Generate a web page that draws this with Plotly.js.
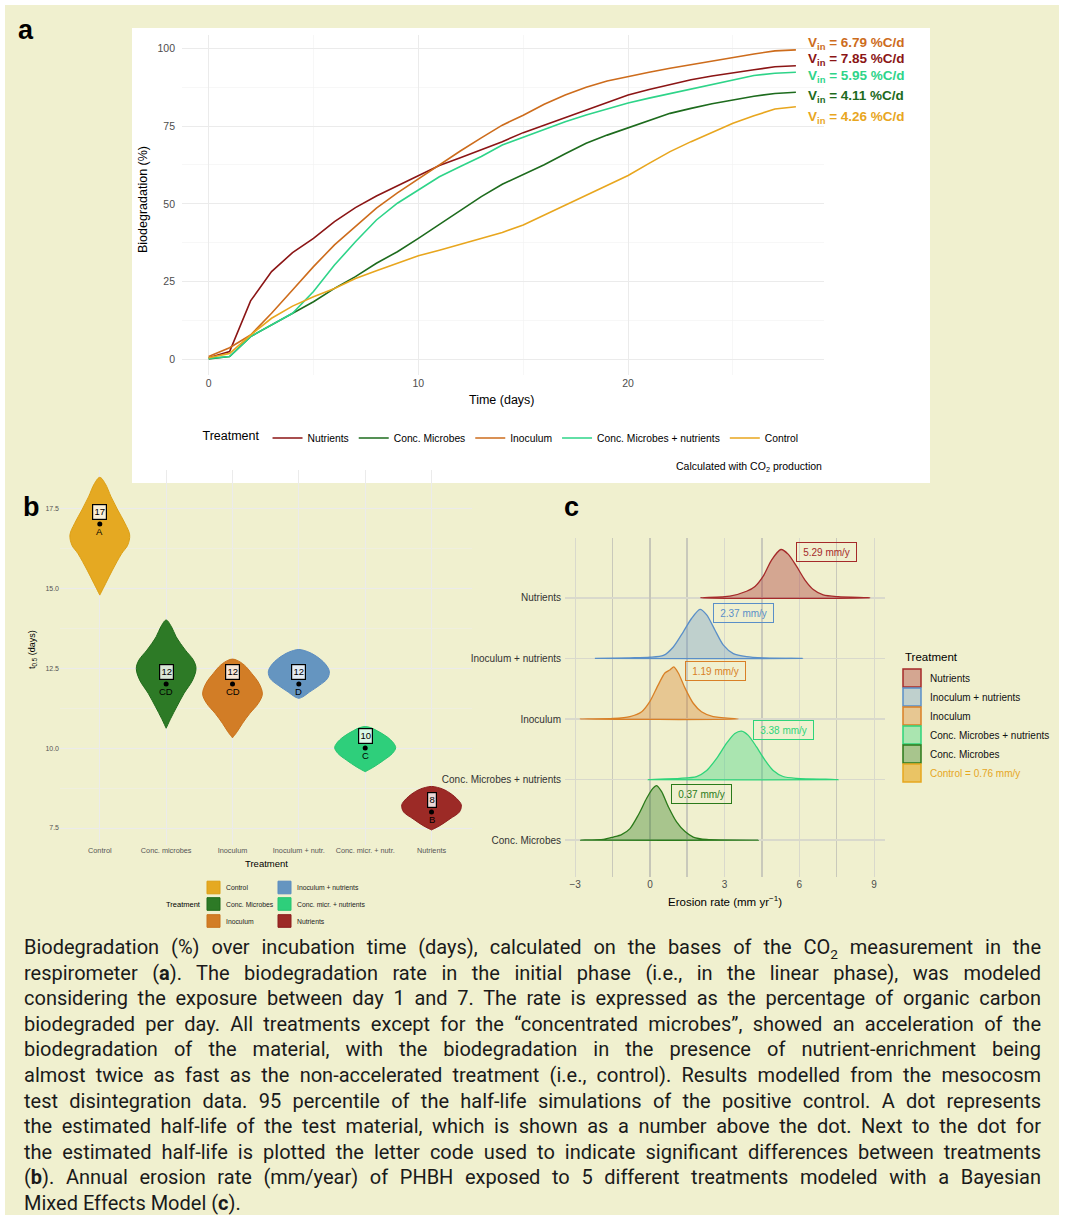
<!DOCTYPE html>
<html><head><meta charset="utf-8">
<script src="https://cdn.plot.ly/plotly-3.0.1.min.js"></script>
<style>
body{margin:0;background:#fff;width:1069px;height:1215px;position:relative;overflow:hidden}
#bg{position:absolute;left:5px;top:5px;width:1054px;height:1210px;background:#f0f0cf}
#plot{position:absolute;left:0;top:0;width:1069px;height:930px}
#cap{position:absolute;left:24px;top:935px;width:1017px;font-family:Roboto,"Liberation Sans",sans-serif;font-size:20px;line-height:25.6px;color:#1a1a1a}
#cap .ln{white-space:nowrap;text-align:left}
#cap .ln.j{white-space:normal;text-align:justify;text-align-last:justify}
#cap sub{font-size:0.68em;line-height:0}
</style></head>
<body>
<div id="bg"></div>
<div id="plot"></div>
<div id="cap"></div>
<script>
// ---------------- DATA ----------------
// Panel a: biodegradation (%) vs time (days)
const days = [0,1,2,3,4,5,6,7,8,9,10,11,12,13,14,15,16,17,18,19,20,21,22,23,24,25,26,27,28];
const seriesNames = ['Nutrients','Conc. Microbes','Inoculum','Conc. Microbes + nutrients','Control'];
const nutrients = [0.5,2.5,18.8,28.2,34.3,38.9,44.3,48.8,52.5,55.8,59.1,62.3,64.8,67.3,70.0,72.9,75.3,77.7,80.0,82.5,85.0,86.8,88.4,89.9,91.1,92.2,93.1,94.1,94.4];
const concMicrobes = [0.1,0.9,7.3,11.0,14.8,18.5,22.8,26.6,30.9,34.6,38.9,43.4,48.0,52.3,56.3,59.5,62.6,66.1,69.5,72.1,74.5,76.7,79.1,80.7,82.2,83.4,84.6,85.5,85.9];
const inoculum = [0.9,3.7,7.8,14.8,22.3,29.8,36.8,42.7,48.6,53.5,58.0,62.5,67.0,71.2,75.3,78.5,82.0,85.0,87.5,89.5,91.0,92.3,93.6,94.8,96.0,97.2,98.2,99.2,99.5];
const concMicrobesNutr = [0.3,0.9,7.3,11.0,14.8,21.8,30.3,37.8,44.8,50.2,54.4,58.7,62.0,65.2,68.9,71.4,74.0,76.4,78.6,80.6,82.4,84.0,85.5,87.0,88.5,90.0,91.3,92.0,92.3];
const control = [0.5,1.9,7.8,13.2,17.1,20.1,22.8,26.0,28.5,31.0,33.3,35.1,37.0,38.9,40.8,43.2,46.4,49.6,52.8,56.0,59.1,63.0,66.8,70.0,73.0,75.9,78.3,80.5,81.2];
const vinRates = ['7.85','4.11','6.79','5.95','4.26'];

// Panel b: half-life t0.5 (days) violins
const violinCats = ['Control','Conc. microbes','Inoculum','Inoculum + nutr.','Conc. micr. + nutr.','Nutrients'];
const halfLife = [17,12,12,12,10,8];
const letterCodes = ['A','CD','CD','D','C','B'];
const vioY_control = [18.46,18.27,17.85,17.44,17.02,16.66,16.34,16.08,15.56,15.15,14.78];
const vioW_control = [0,0.08,0.17,0.27,0.38,0.45,0.42,0.33,0.19,0.09,0];
const vioY_concMic = [14.0,13.79,13.48,13.06,12.75,12.49,12.13,11.71,11.29,10.93,10.62];
const vioW_concMic = [0,0.08,0.15,0.29,0.41,0.45,0.40,0.27,0.16,0.07,0];
const vioY_inoc = [12.78,12.74,12.59,12.33,12.02,11.69,11.40,11.08,10.77,10.51,10.32];
const vioW_inoc = [0,0.07,0.18,0.29,0.40,0.45,0.39,0.26,0.15,0.07,0];
const vioY_inocNutr = [13.08,13.05,12.96,12.75,12.54,12.38,12.17,11.96,11.75,11.60,11.55];
const vioW_inocNutr = [0,0.08,0.19,0.34,0.43,0.46,0.43,0.31,0.16,0.06,0];
const vioY_concMicNutr = [10.67,10.64,10.54,10.35,10.15,10.01,9.83,9.62,9.41,9.26];
const vioW_concMicNutr = [0,0.08,0.18,0.33,0.43,0.46,0.41,0.28,0.13,0];
const vioY_nutr = [8.80,8.77,8.69,8.48,8.27,8.18,8.00,7.79,7.58,7.44];
const vioW_nutr = [0,0.09,0.20,0.35,0.44,0.45,0.42,0.28,0.13,0];
const legendB = ['Control','Conc. Microbes','Inoculum','Inoculum + nutrients','Conc. micr. + nutrients','Nutrients'];

// Panel c: erosion rate (mm/yr) posterior densities (ridge heights in row units)
const ridgeRows = ['Conc. Microbes','Conc. Microbes + nutrients','Inoculum','Inoculum + nutrients','Nutrients'];
const dens_concMic_x = [-2.78,-1.87,-1.47,-1.14,-0.80,-0.47,-0.13,0.11,0.27,0.47,0.74,1.07,1.41,1.74,2.28,4.35];
const dens_concMic_y = [0,0.01,0.05,0.09,0.19,0.41,0.69,0.85,0.90,0.80,0.55,0.30,0.14,0.05,0.01,0];
const dens_concMicNutr_x = [-0.07,1.20,1.87,2.28,2.68,3.08,3.41,3.68,3.95,4.28,4.62,4.95,5.35,5.89,7.56];
const dens_concMicNutr_y = [0,0.02,0.05,0.15,0.35,0.60,0.76,0.80,0.73,0.54,0.32,0.15,0.05,0.02,0];
const dens_inoc_x = [-2.81,-1.47,-0.80,-0.33,0.00,0.33,0.60,0.80,0.96,1.14,1.41,1.74,2.07,2.54,3.55];
const dens_inoc_y = [0,0.01,0.04,0.12,0.29,0.56,0.76,0.81,0.86,0.76,0.51,0.26,0.12,0.04,0];
const dens_inocNutr_x = [-2.21,-0.80,0.00,0.54,0.94,1.34,1.67,2.01,2.28,2.61,2.95,3.35,3.88,4.55,6.13];
const dens_inocNutr_y = [0,0.01,0.02,0.05,0.19,0.44,0.66,0.81,0.72,0.47,0.22,0.08,0.03,0.01,0];
const dens_nutr_x = [2.03,3.21,3.88,4.22,4.55,4.89,5.26,5.56,5.89,6.22,6.56,6.96,7.56,8.84];
const dens_nutr_y = [0,0.03,0.11,0.19,0.36,0.63,0.80,0.72,0.52,0.30,0.14,0.05,0.02,0];
const erosionRates = ['0.37','3.38','1.19','2.37','5.29'];
const controlRate = '0.76';
const legendC = ['Nutrients','Inoculum + nutrients','Inoculum','Conc. Microbes + nutrients','Conc. Microbes','Control = ' + controlRate + ' mm/y'];

const captionLines = [
 'Biodegradation (%) over incubation time (days), calculated on the bases of the CO<sub>2</sub> measurement in the',
 'respirometer (<b>a</b>). The biodegradation rate in the initial phase (i.e., in the linear phase), was modeled',
 'considering the exposure between day 1 and 7. The rate is expressed as the percentage of organic carbon',
 'biodegraded per day. All treatments except for the \u201cconcentrated microbes\u201d, showed an acceleration of the',
 'biodegradation of the material, with the biodegradation in the presence of nutrient-enrichment being',
 'almost twice as fast as the non-accelerated treatment (i.e., control). Results modelled from the mesocosm',
 'test disintegration data. 95 percentile of the half-life simulations of the positive control. A dot represents',
 'the estimated half-life of the test material, which is shown as a number above the dot. Next to the dot for',
 'the estimated half-life is plotted the letter code used to indicate significant differences between treatments',
 '(<b>b</b>). Annual erosion rate (mm/year) of PHBH exposed to 5 different treatments modeled with a Bayesian',
 'Mixed Effects Model (<b>c</b>).'
];

// ---------------- STYLE ----------------
const W = 1069, H = 930;
const px = v => v / W, py = v => 1 - v / H;
const FONT = '"Liberation Sans", Arial, sans-serif';
const lineColorsA = ['#8b1515','#1d6b1d','#cd6c1c','#2ed489','#e8a61e'];
const vinLabelY = [96.5, 84.6, 101.7, 91.0, 77.7];
const vioFill = ['#e5a922','#2d7a26','#d27d26','#6595c0','#2ecf7b','#9c2a26'];
const vioLine = ['#dc9f15','#1f6a1a','#c9721c','#5a8cc0','#27c470','#8b1c1c'];
const ridgeLine = ['#2a7a1a','#2ed47a','#d98026','#5a8fc8','#a52a2a'];
const ridgeFill = ['rgba(42,122,26,0.36)','rgba(46,212,122,0.36)','rgba(217,128,38,0.36)','rgba(90,143,200,0.33)','rgba(165,42,42,0.37)'];
const ridgeLabelPos = [[701.5,793.5],[783.5,730],[715.5,671],[743.5,612.5],[826.5,552]];
const legCFill = ['rgba(165,42,42,0.37)','rgba(90,143,200,0.33)','rgba(217,128,38,0.36)','rgba(46,212,122,0.36)','rgba(42,122,26,0.36)','rgba(230,166,30,0.6)'];
const legCLine = ['#a52a2a','#5a8fc8','#d98026','#2ed47a','#2a7a1a','#e6a61e'];

const traces = [];
// Panel a lines
const seriesA = [nutrients, concMicrobes, inoculum, concMicrobesNutr, control];
seriesA.forEach((s,k)=>{
  traces.push({type:'scatter',mode:'lines',x:days,y:s,name:seriesNames[k],xaxis:'x',yaxis:'y',
    line:{color:lineColorsA[k],width:1.6},hoverinfo:'skip',legend:'legend'});
});
// Panel b violins
const vioYs = [vioY_control,vioY_concMic,vioY_inoc,vioY_inocNutr,vioY_concMicNutr,vioY_nutr];
const vioWs = [vioW_control,vioW_concMic,vioW_inoc,vioW_inocNutr,vioW_concMicNutr,vioW_nutr];
vioYs.forEach((yy,i)=>{
  const ww = vioWs[i];
  const xr = yy.map((v,k)=>i+ww[k]);
  const xl = yy.map((v,k)=>i-ww[k]).reverse();
  const yl = yy.slice().reverse();
  traces.push({type:'scatter',mode:'lines',x:xr.concat(xl),y:yy.concat(yl),fill:'toself',
    fillcolor:vioFill[i],line:{color:vioLine[i],width:1,shape:'spline',smoothing:1},
    xaxis:'x2',yaxis:'y2',showlegend:false,hoverinfo:'skip'});
});
traces.push({type:'scatter',mode:'markers',x:violinCats.map((c,i)=>i),y:halfLife,
  marker:{color:'#000',size:5},xaxis:'x2',yaxis:'y2',showlegend:false,hoverinfo:'skip'});
// Panel c ridges
const ridgeXs = [dens_concMic_x,dens_concMicNutr_x,dens_inoc_x,dens_inocNutr_x,dens_nutr_x];
const ridgeYs = [dens_concMic_y,dens_concMicNutr_y,dens_inoc_y,dens_inocNutr_y,dens_nutr_y];
ridgeXs.forEach((xx,r)=>{
  const yy = ridgeYs[r].map(v=>r+v);
  traces.push({type:'scatter',mode:'lines',x:xx.concat([xx[0]]),y:yy.concat([r]),fill:'toself',
    fillcolor:ridgeFill[r],line:{color:ridgeLine[r],width:1.3,shape:'spline',smoothing:0.7},
    xaxis:'x3',yaxis:'y3',showlegend:false,hoverinfo:'skip'});
});

// ---------------- ANNOTATIONS & SHAPES ----------------
const ann = [];
const shapes = [];
shapes.push({type:'rect',xref:'paper',yref:'paper',x0:px(132),x1:px(930),y0:py(483),y1:py(28),
  fillcolor:'#ffffff',line:{width:0},layer:'below'});
const A = (o)=>ann.push(Object.assign({showarrow:false,xref:'paper',yref:'paper',xanchor:'center',yanchor:'middle',
  font:{family:FONT,size:11,color:'#000'}},o));
A({x:px(26),y:py(30),text:'<b>a</b>',font:{family:FONT,size:27,color:'#000'}});
A({x:px(31),y:py(507),text:'<b>b</b>',font:{family:FONT,size:27,color:'#000'}});
A({x:px(571),y:py(507),text:'<b>c</b>',font:{family:FONT,size:27,color:'#000'}});
// panel a
A({x:px(143),y:py(200),text:'Biodegradation (%)',textangle:-90,font:{family:FONT,size:12.5,color:'#000'}});
A({x:px(502),y:py(400),text:'Time (days)',font:{family:FONT,size:12.5,color:'#000'}});
A({x:px(824),y:py(467),xanchor:'right',text:'Calculated with CO<sub>2</sub> production',font:{family:FONT,size:10.5,color:'#000'}});
seriesNames.forEach((n,k)=>{
  ann.push({showarrow:false,xref:'x',yref:'y',x:28.47,y:vinLabelY[k],xanchor:'left',yanchor:'middle',
    text:'<b>V<sub>in</sub> = '+vinRates[k]+' %C/d</b>',font:{family:FONT,size:13.5,color:lineColorsA[k]}});
});
// panel b
halfLife.forEach((t,i)=>{
  ann.push({showarrow:false,xref:'x2',yref:'y2',x:i,y:t+0.38,text:String(t),xanchor:'center',yanchor:'middle',
    font:{family:FONT,size:9.5,color:'#000'},bordercolor:'#000',borderwidth:1.2,borderpad:1.2,bgcolor:'rgba(255,255,255,0.82)'});
  ann.push({showarrow:false,xref:'x2',yref:'y2',x:i,y:t-0.23,text:letterCodes[i],xanchor:'center',yanchor:'middle',
    font:{family:FONT,size:9.5,color:'#000'}});
});
A({x:px(266),y:py(863),text:'Treatment',font:{family:FONT,size:9.5,color:'#000'}});
A({x:px(32),y:py(650),text:'t<sub>0.5</sub> (days)',textangle:-90,font:{family:FONT,size:9,color:'#000'}});
A({x:px(203),y:py(904),xanchor:'right',text:'Treatment',font:{family:FONT,size:7.5,color:'#000'}});
legendB.forEach((n,k)=>{
  const col = k<3 ? 0 : 1, row = k%3;
  const bx = col===0 ? 207 : 278, cy = [887.5,904,921][row];
  shapes.push({type:'rect',xref:'paper',yref:'paper',x0:px(bx),x1:px(bx+13),y0:py(cy+6.3),y1:py(cy-6.3),
    fillcolor:vioFill[k],line:{color:vioLine[k],width:1}});
  A({x:px(bx+17),y:py(cy),xanchor:'left',text:n,font:{family:FONT,size:6.8,color:'#222'}});
});
// panel c
A({x:px(725),y:py(901),text:'Erosion rate (mm yr<sup>\u22121</sup>)',font:{family:FONT,size:11.5,color:'#000'}});
erosionRates.forEach((v,r)=>{
  A({x:px(ridgeLabelPos[r][0]),y:py(ridgeLabelPos[r][1]),text:v+' mm/y',
    font:{family:FONT,size:10,color:ridgeLine[r]},bordercolor:ridgeLine[r],borderwidth:1,borderpad:2,
    width:55,height:14,bgcolor:'rgba(0,0,0,0)'});
});
A({x:px(903),y:py(657),xanchor:'left',text:'Treatment',font:{family:FONT,size:11.5,color:'#000'}});
legendC.forEach((n,k)=>{
  const top = 669 + 19*k;
  shapes.push({type:'rect',xref:'paper',yref:'paper',x0:px(903),x1:px(921),y0:py(top+18),y1:py(top),
    fillcolor:legCFill[k],line:{color:legCLine[k],width:1.5}});
  A({x:px(928),y:py(top+9),xanchor:'left',text:n,font:{family:FONT,size:10,color:k===5?'#e6a61e':'#111'}});
});

const tickA = {family:FONT,size:10.5,color:'#4d4d4d'};
const layout = {
  width:W,height:H,margin:{l:0,r:0,t:0,b:0},autosize:false,
  paper_bgcolor:'rgba(0,0,0,0)',plot_bgcolor:'rgba(0,0,0,0)',
  font:{family:FONT},
  xaxis:{domain:[px(182),px(824)],range:[-1.27,29.34],anchor:'y',tickvals:[0,10,20],
    showgrid:true,gridcolor:'#ebebeb',gridwidth:1,zeroline:false,showline:false,ticks:'',tickfont:tickA,
    minor:{dtick:5,tick0:0,showgrid:true,gridcolor:'#f2f2f2',gridwidth:0.6,ticks:''}},
  yaxis:{domain:[py(375),py(35)],range:[-5.05,104.3],anchor:'x',tickvals:[0,25,50,75,100],
    showgrid:true,gridcolor:'#ebebeb',gridwidth:1,zeroline:false,showline:false,ticks:'',tickfont:tickA,ticklabelstandoff:6,
    minor:{dtick:12.5,tick0:0,showgrid:true,gridcolor:'#f2f2f2',gridwidth:0.6,ticks:''}},
  xaxis2:{domain:[px(60),px(472)],range:[-0.6,5.61],anchor:'y2',tickvals:[0,1,2,3,4,5],ticktext:violinCats,
    showgrid:true,gridcolor:'#ebebeb',gridwidth:1,zeroline:false,showline:false,ticks:'',
    tickfont:{family:FONT,size:7.3,color:'#555'}},
  yaxis2:{domain:[py(845),py(470)],range:[6.97,18.69],anchor:'x2',tickvals:[7.5,10,12.5,15,17.5],tickformat:'.1f',
    showgrid:true,gridcolor:'#ebebeb',gridwidth:1,zeroline:false,showline:false,ticks:'',
    tickfont:{family:FONT,size:7,color:'#555'},
    minor:{dtick:1.25,tick0:7.5,showgrid:true,gridcolor:'#eeeeea',gridwidth:0.6,ticks:''}},
  xaxis3:{domain:[px(565),px(885)],range:[-3.41,9.44],anchor:'y3',tickvals:[-3,0,3,6,9],
    showgrid:true,gridcolor:'#d9d9cc',gridwidth:1,zeroline:true,zerolinecolor:'#c6c6b8',zerolinewidth:2,
    showline:false,ticks:'',tickfont:{family:FONT,size:10,color:'#4d4d4d'},
    minor:{tickvals:[-1.5,1.5,4.5,7.5],showgrid:true,gridcolor:'#c9c9bb',gridwidth:1.6,ticks:''}},
  yaxis3:{domain:[py(877),py(538)],range:[-0.61,4.99],anchor:'x3',tickvals:[0,1,2,3,4],ticktext:ridgeRows,
    showgrid:true,gridcolor:'#d9d9cc',gridwidth:1.5,zeroline:false,showline:false,ticks:'',ticklabelstandoff:3,
    tickfont:{family:FONT,size:10,color:'#333'}},
  legend:{orientation:'h',x:px(502),xanchor:'center',y:py(438),yanchor:'middle',bgcolor:'rgba(0,0,0,0)',
    font:{family:FONT,size:10.3,color:'#000'},title:{text:'Treatment',side:'left',font:{family:FONT,size:12.5,color:'#000'}},
    itemwidth:30,tracegroupgap:0},
  showlegend:true,
  annotations:ann,shapes:shapes
};
Plotly.newPlot('plot',traces,layout,{staticPlot:true,displayModeBar:false});

// caption
const cap = document.getElementById('cap');
const lineDivs = captionLines.map((t,k)=>{
  const d = document.createElement('div'); d.className='ln'; d.innerHTML='<span>'+t+'</span>'; cap.appendChild(d); return d;
});
let maxw = 0;
lineDivs.forEach(d=>{maxw=Math.max(maxw,d.firstChild.getBoundingClientRect().width);});
if (maxw > 1015) cap.style.fontSize = (20*1015/maxw).toFixed(2)+'px';
lineDivs.forEach((d,k)=>{ if(k<lineDivs.length-1) d.className='ln j'; });
</script>
</body></html>
